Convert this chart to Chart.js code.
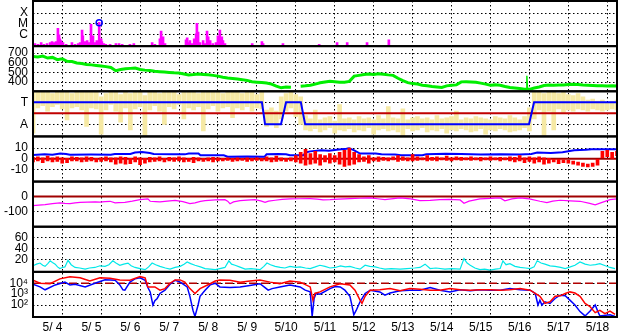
<!DOCTYPE html>
<html><head><meta charset="utf-8">
<script src="https://cdn.jsdelivr.net/npm/chart.js@4/dist/chart.umd.min.js"></script>
<style>html,body{margin:0;padding:0;background:#fff;overflow:hidden}canvas{display:block}</style>
</head><body>
<canvas id="c" width="628" height="334"></canvas>
<script>
// ---------- labels ----------
const dayLabels = ['5/ 4','5/ 5','5/ 6','5/ 7','5/ 8','5/ 9','5/10','5/11','5/12','5/13','5/14','5/15','5/16','5/17','5/18'];
const xrayTickVals = [1e-6, 1e-5, 1e-4];
const xrayTickText = ['C', 'M', 'X'];
const speedTicks = [400, 500, 600, 700];
const sectorTickVals = [-1, 1];
const sectorTickText = ['A', 'T'];
const bzTicks = [-10, 0, 10];
const dstTicks = [-100, 0];
const kpTicks = [20, 40, 60];
const elecTickVals = [100, 1000, 10000];
const elecTickText = ['10²', '10³', '10⁴'];

// ---------- panel 1: X-ray flux (days since 5/4 00:00) ----------
const xrayDay = [0.05,0.13,0.21,0.28,0.36,0.44,0.49,0.54,0.59,0.64,0.67,0.69,0.72,0.77,0.85,1.00,1.08,1.16,1.21,1.26,
  1.28,1.34,1.39,1.44,1.49,1.54,1.59,1.64,1.70,1.75,1.77,1.82,1.87,1.98,2.13,2.21,2.29,2.49,2.59,3.06,
  3.13,3.26,3.29,3.34,3.39,3.93,3.96,4.01,4.03,4.08,4.14,4.19,4.21,4.24,4.29,4.37,4.42,4.47,4.50,4.55,
  4.62,4.70,4.75,4.80,4.85,4.88,4.93,5.63,5.88,5.91,6.42,7.35,7.81,8.07,8.58,9.14];
const xrayFlux = [1.3e-7,1.07e-7,1.6e-7,1.07e-7,1.3e-7,1.6e-7,2.0e-7,1.6e-7,2.0e-7,3.7e-6,8.6e-7,3.7e-7,2.45e-7,1.6e-7,1.07e-7,1.6e-7,1.07e-7,1.3e-7,1.6e-7,2.45e-6,
  7.0e-7,2.0e-7,2.45e-7,1.6e-7,8.7e-6,7.0e-7,1.6e-7,2.45e-7,1.3e-5,3.7e-7,2.0e-7,1.3e-7,1.07e-7,1.07e-7,1.3e-7,1.3e-7,1.07e-7,1.07e-7,1.3e-7,1.6e-7,
  1.07e-7,3.7e-7,2.0e-6,5.7e-7,1.3e-7,3.0e-7,4.6e-7,1.6e-7,2.45e-7,1.3e-7,3.7e-7,1.07e-6,1.07e-5,1.6e-6,1.6e-7,2.45e-7,1.3e-7,2.0e-6,5.7e-7,2.45e-7,
  1.3e-7,1.6e-7,7.0e-7,2.45e-6,5.7e-7,2.45e-7,1.3e-7,1.3e-7,2.0e-7,1.3e-7,1.3e-7,1.07e-7,1.6e-7,1.6e-7,1.6e-7,3.0e-7];
const flarePeakDay = [1.70];
const flarePeakFlux = [1.25e-5];

// ---------- panel 2: solar wind speed, every 3 h ----------
const windStep = 0.125;
const windSpeed = [664,660,668,648,655,632,640,615,612,598,592,582,578,572,566,560,552,518,530,538,
  542,546,530,524,520,512,508,504,500,496,494,485,475,478,484,480,476,470,462,450,
  442,438,432,426,418,405,400,396,392,380,360,342,350,348,null,358,362,369,380,393,
  402,410,405,398,400,408,462,470,478,483,480,486,482,475,470,440,415,395,385,380,
  369,362,355,350,345,362,368,372,403,405,402,398,390,380,369,372,368,355,345,340,
  334,328,326,340,350,365,370,368,370,372,375,378,375,370,368,365,362,362,360,362,361];
const windSpikeDay = [12.67, 12.685, 12.70];
const windSpikeSpeed = [328, 466, 328];

// ---------- panel 3: IMF sector (T/A) ----------
const phiStep = 0.125;
const phiSpread = [[-1.8,2],[0.5,2],[0.7,1.9],[0.2,2],[0.6,1.8],[0.8,2],[0.4,1.9],[-0.6,2],[0.5,1.8],[0.6,2],
  [0.3,1.9],[-1.2,2],[0.5,1.9],[0.4,2],[-1.9,1.5],[0.3,1.8],[0.8,2],[0.2,1.9],[-0.8,1.7],[0.5,2],
  [-1.5,1.8],[0.4,1.9],[0.6,2],[-2,1.6],[0.3,1.9],[0.7,2],[0.2,1.8],[-1,2],[0.6,1.9],[0.4,2],
  [0.8,1.7],[-0.5,2],[0.5,1.9],[0.3,2],[0.6,1.8],[-1.6,1.9],[0.4,2],[0.7,1.9],[0.2,2],[0.5,1.8],
  [0.6,2],[-0.4,1.9],[0.5,2],[0.3,1.8],[0.6,1.9],[0.2,2],[0.5,1.7],[0.4,1.9],
  [-1.2,0.3],[-1,0.5],[-1.3,0.2],[-0.5,1.5],[0.2,1.8],[0.5,1.9],[-0.3,1.7],[-1,1.5],
  [-1.5,-0.2],[-1.6,-0.5],[-1.4,0.3],[-1.7,-0.6],[-1.5,-0.4],[-1.3,-0.3],[-1.8,-0.7],[-1.5,0.8],[-1.6,-0.5],[-1.4,-0.4],
  [-1.7,-0.6],[-1.5,-0.3],[-1.6,-0.5],[-1.3,-0.4],[-1.9,-0.6],[-1.5,-0.2],[-1.4,-0.5],[-1.6,0.6],[-1.5,-0.4],[-1.7,-0.5],
  [-2,0.4],[-1.4,-0.6],[-1.6,-0.4],[-1.5,-0.3],[-1.3,-0.5],[-1.7,-0.4],[-1.5,-0.6],[-1.6,-0.2],[-1.4,-0.5],[-1.8,-0.4],
  [-1.5,-0.3],[-1.6,0.2],[-1.4,-0.6],[-1.5,-0.4],[-1.7,-0.5],[-1.6,-0.3],[-1.4,-0.4],[-1.9,-0.5],[-1.5,-0.6],[-1.6,-0.3],
  [-1.4,-0.4],[-1.5,-0.5],[-1.7,-0.2],[-1.6,-0.4],[-1.5,-0.6],[-1.3,-0.3],[-1.6,0.5],
  [-0.5,2],[0.3,1.9],[-2,1.8],[0.2,2],[-1.5,1.9],[0.4,1.8],[0.1,1.9],[0.3,1.7],[0.2,1.6],[0.4,1.8],
  [0.3,1.5],[0.2,1.2],[0.4,1.3],[0.3,1.1],[0.2,1.2],[0.3,1.0],[0.4,1.1],[0.3,1.2]];
const sectorDay = [0, 5.88, 5.96, 6.37, 6.50, 6.88, 6.99, 12.74, 12.87, 15];
const sectorVal = [1, 1, -1, -1, 1, 1, -1, -1, 1, 1];

// ---------- panel 4: IMF Bt (blue) and Bz spread (red) ----------
const btDay = [0,0.3,0.5,0.7,0.85,0.95,1.5,2.0,2.1,2.5,2.62,2.8,3.0,3.1,3.6,3.9,4.0,4.25,4.3,4.9,
  5.0,5.5,5.95,6.0,6.3,6.5,6.6,6.95,7.0,7.12,7.4,7.6,7.8,8.05,8.12,8.25,8.4,8.8,8.95,9.3,
  9.45,10.0,10.1,10.6,11.0,11.5,12.0,12.5,12.8,12.95,13.3,13.6,13.9,14.2,14.35,15];
const btVal = [3.6,4.2,3.8,5,4.5,3.8,4,3.8,4.5,4.5,6,6.5,5.5,4.5,4.2,4.2,5,5,3.3,3.3,
  2,2.2,2,4.3,4.5,4.3,3.3,3.3,6,7,8,7.5,8.5,9.5,10,8,5,5,4.3,4,
  3.3,3.3,4.3,4.8,4.5,4,4.3,4,4.5,6,5.5,6.2,8,8.5,9,9];
const bzStep = 0.125;
const bzSpread = [[-3,1.5],[-2,2],[-3.5,1],[-2,2.5],[-3,1],[-2.5,2],[-4,1],[-3.5,0.5],[-2,2],
  [-2,1.5],[-3,1],[-2.5,2],[-2,1.5],[-3,0.5],[-2.5,1],[-2,2],[-3,1],
  [-5,1],[-4,2],[-5,1.5],[-4.5,0.5],[-3,2],[-5.5,1],[-4,0.5],[-3,1.5],
  [-2.5,1],[-2,2],[-3,0.5],[-2,1.5],[-2.5,1],[-2,2],[-3,1],[-2.5,0.5],[-3.5,1.5],[-2,1],[-2.5,0.5],[-2,1],[-3,1.5],[-2,1],
  [-2,0.5],[-1.5,1],[-2.5,0.5],[-2,1],[-1.5,0.5],[-2.5,1],[-2,0.5],[-1.5,1],[-2,0.5],
  [-2,2],[-3,1],[-2.5,2.5],[-2,1],[-2.5,0.5],[-2,1],
  [-3,3],[-4,6],[-6,9],[-5,5],
  [-4,7],[-6,4],[-3,3],
  [-4,5],[-3,3],[-5,6],[-7,8],[-6,10],[-5,6],
  [-3,4],[-2.5,2],[-4,3],[-2,1],[-2.5,2],
  [-1.5,1.5],[-2,1],[-1,2],[-2.5,3],[-1.5,2],[-2,1],[-2,4],[-1.5,2],[-1,1],[-2,3],[-1.5,1.5],
  [-2,2],[-1,1],[-1.5,2.5],[-2,1],[-1,2],[-1.5,1.5],[-1,1],[-1.5,2],[-1,1],[-2,1.5],[-1,1],[-1.5,2],[-1,1],[-2,1.5],[-1,1],
  [-2,2],[-3,1.5],[-2,3],[-3.5,1],[-2.5,2],[-4,1],[-3,2],[-5,1],
  [-4,0.5],[-3,-0.5],[-4.5,0],[-3.5,-1],[-4,-1.5],[-5,-2],
  [-6,-3],[-7,-4],[-7.5,-5],[-7,-4],[-6,0],
  [1,7],[2,8],[0,6],[3,7]];

// ---------- panel 5: Dst ----------
const dstDay = [0,0.15,0.31,0.5,0.69,0.82,0.95,1.08,1.21,1.4,1.6,1.72,1.85,1.98,2.11,2.2,2.36,2.55,2.75,2.95,
  3.01,3.15,3.26,3.45,3.65,3.85,4.03,4.16,4.3,4.42,4.68,4.93,5.0,5.06,5.15,5.32,5.5,5.70,5.85,5.96,
  6.05,6.22,6.4,6.60,6.85,7.12,7.3,7.45,7.63,7.85,8.14,8.4,8.66,8.85,9.04,9.2,9.43,9.7,9.94,10.2,
  10.45,10.7,10.97,11.07,11.2,11.48,11.75,12.0,12.12,12.3,12.51,12.75,13.02,13.2,13.35,13.54,13.8,14.05,14.3,14.44,
  14.6,14.82,15];
const dstVal = [-60,-56,-53,-46,-42,-45,-47,-41,-38,-37,-35,-36,-33,-31,-42,-40,-38,-30,-20,-15,
  -31,-33,-35,-30,-25,-33,-47,-42,-32,-27,-22,-20,-30,-47,-35,-27,-23,-20,-28,-38,
  -30,-24,-18,-15,-14,-13,-17,-22,-20,-16,-13,-11,-9,-14,-20,-15,-9,-15,-27,-25,
  -20,-18,-22,-44,-30,-15,-12,-9,-28,-15,-9,-15,-31,-40,-30,-24,-28,-31,-45,-55,
  -40,-20,-15];

// ---------- panel 6: cyan index ----------
const kpDay = [0,0.09,0.18,0.25,0.31,0.38,0.44,0.5,0.57,0.63,0.69,0.76,0.82,0.90,0.98,1.08,1.2,1.34,1.45,1.59,
  1.72,1.85,1.95,2.05,2.13,2.23,2.33,2.44,2.52,2.62,2.75,2.88,2.97,3.06,3.15,3.26,3.4,3.52,3.65,3.78,
  3.88,3.96,4.05,4.16,4.3,4.42,4.55,4.68,4.8,4.93,5.03,5.1,5.19,5.3,5.45,5.6,5.83,5.93,6.01,6.1,
  6.22,6.35,6.47,6.6,6.75,6.86,7.0,7.12,7.25,7.37,7.5,7.63,7.76,7.9,8.02,8.14,8.28,8.40,8.53,8.65,
  8.79,8.9,9.04,9.2,9.43,9.6,9.8,9.94,10.07,10.2,10.35,10.58,10.75,10.97,11.07,11.15,11.23,11.35,11.48,11.6,
  11.74,11.88,12.0,12.07,12.15,12.25,12.38,12.51,12.65,12.77,12.87,12.95,13.05,13.15,13.28,13.41,13.55,13.67,13.8,13.92,
  14.05,14.18,14.31,14.45,14.56,14.7,14.82,14.95];
const kpVal = [9,12,14,10,8,13,18,15,12,7,4,6,7,19,11,6,5,3,5,6,
  9,8,11,18,14,10,12,14,9,6,4,2,7,14,11,8,5,3,6,8,
  12,16,13,10,7,4,3,2,4,6,18,12,10,7,3,4,2,8,14,11,
  8,6,5,8,6,7,5,4,7,10,8,5,6,9,7,8,5,3,10,8,
  7,5,3,4,3,4,5,6,12,4,5,3,4,3,22,14,10,5,2,3,
  1,3,4,18,11,13,8,6,5,4,7,18,14,12,9,8,6,4,7,10,
  16,12,10,11,13,9,6,4];

// ---------- panel 7: electron flux (red, blue) ----------
const eRedDay = [0,0.18,0.44,0.69,0.95,1.21,1.46,1.72,1.98,2.23,2.49,2.75,2.88,2.95,3.13,3.26,3.39,3.52,3.65,3.78,
  3.90,4.03,4.16,4.29,4.55,4.68,4.80,5.06,5.32,5.57,5.83,6.09,6.34,6.60,6.86,7.12,7.19,7.24,7.37,7.63,
  7.89,8.14,8.27,8.40,8.45,8.53,8.66,8.91,9.17,9.43,9.68,9.94,10.20,10.45,10.71,10.97,11.23,11.48,11.74,12.00,
  12.25,12.51,12.77,12.90,13.02,13.15,13.28,13.41,13.54,13.67,13.79,13.92,14.05,14.18,14.31,14.44,14.56,14.69,14.82,14.95];
const eRedVal = [18600,10000,8900,25000,40000,31600,15800,31600,28000,20000,18600,40000,31600,4600,4600,2300,3200,10000,20000,20000,
  12600,3200,1150,3200,8900,15800,20000,18600,12600,15800,20000,12600,8900,15800,12600,4600,280,1150,1600,4600,
  8900,7000,2300,280,140,630,2300,2500,3200,2000,3200,2800,2300,2300,3200,2500,2300,2500,2500,2300,
  2500,3200,2300,1150,630,140,200,630,700,1150,1600,1260,630,140,70,20,32,16,28,14];
const eBlueDay = [0,0.18,0.31,0.57,0.82,0.95,1.08,1.34,1.59,1.85,2.11,2.23,2.31,2.36,2.49,2.62,2.75,2.88,2.95,3.01,
  3.08,3.13,3.19,3.26,3.39,3.52,3.65,3.78,3.96,4.03,4.11,4.16,4.24,4.29,4.42,4.55,4.68,4.80,5.06,5.32,
  5.57,5.83,5.96,6.04,6.14,6.34,6.60,6.86,6.99,7.12,7.17,7.22,7.27,7.37,7.63,7.76,7.89,8.01,8.14,8.19,
  8.24,8.30,8.40,8.53,8.66,8.91,9.04,9.17,9.43,9.68,9.94,10.20,10.45,10.71,10.97,11.23,11.48,11.74,12.00,12.25,
  12.51,12.77,12.90,12.97,13.02,13.07,13.15,13.28,13.41,13.54,13.67,13.79,13.92,14.05,14.18,14.31,14.44,14.51,14.56,14.82,14.95];
const eBlueVal = [8000,4600,2500,7000,12600,7000,8000,4600,10000,21000,18600,7000,2500,2300,12600,25000,31600,18600,4000,1600,
  100,250,400,1150,2300,8000,18600,12600,4600,630,32,9,100,630,2300,7000,10000,4600,4000,4600,
  6300,8900,4000,2300,3200,4600,7000,4600,2300,1600,9,400,1150,1000,3200,5000,4600,2300,630,100,
  12.6,32,200,1150,2300,1600,800,1260,2000,2300,2300,4000,2300,1600,2500,2000,2500,2300,2300,3200,
  2500,2300,1150,100,280,100,200,140,400,800,700,280,100,25,10,28,100,25,10,12.6,9];
const eThreshold = 10000;
const zeroLine = 0;

// ---------- build chart ----------
const pts = (xs, ys) => xs.map((x, i) => ({x: x, y: ys[i]}));
const stepPts = (step, ys) => ys.map((y, i) => ({x: i * step, y: y}));
const hline = v => [{x: 0, y: v}, {x: 15, y: v}];

Chart.defaults.font.family = "'Liberation Sans', Arial, sans-serif";
Chart.defaults.font.size = 12;
Chart.defaults.color = '#000';

const zeroPad = s => { s.paddingTop = 0; s.paddingBottom = 0; s.paddingLeft = 0; s.paddingRight = 0; };
const DOT = [1.5, 2.5];
function yAxis(extra, tickVals, tickText) {
  return Object.assign({
    position: 'left', stack: 'panels', stackWeight: 1, offset: false,
    grid: {color: '#000', lineWidth: 1, drawTicks: false},
    border: {display: false, dash: DOT},
    ticks: {padding: 5, color: '#000', autoSkip: false,
      callback: (v, i) => tickText ? tickText[i] : String(v)},
    afterBuildTicks: s => { s.ticks = tickVals.map(v => ({value: v})); },
    afterFit: s => { s.width = 33; zeroPad(s); }
  }, extra);
}

const panelIds = ['yX', 'ySpeed', 'yTA', 'yBz', 'yDst', 'yKp', 'yE'];
const frames = {
  id: 'frames',
  afterDatasetsDraw(chart) {
    const {ctx, chartArea} = chart;
    ctx.save();
    ctx.strokeStyle = '#000';
    ctx.lineWidth = 2;
    panelIds.forEach(id => {
      const s = chart.scales[id];
      ctx.strokeRect(chartArea.left, s.top, chartArea.right - chartArea.left, s.bottom - s.top);
    });
    ctx.restore();
  }
};

const line = (data, yAxisID, color, width, order, extra) => Object.assign({
  type: 'line', data: data, yAxisID: yAxisID, xAxisID: 'x', borderColor: color,
  backgroundColor: color, borderWidth: width, pointRadius: 0, tension: 0, order: order, spanGaps: false
}, extra || {});

new Chart(document.getElementById('c'), {
  type: 'line',
  data: {
    datasets: [
      // X-ray
      {type: 'bar', data: pts(xrayDay, xrayFlux), yAxisID: 'yX', xAxisID: 'x', backgroundColor: '#ff00ff',
        barThickness: 2, grouped: false, order: 5},
      {type: 'line', showLine: false, data: pts(flarePeakDay, flarePeakFlux), yAxisID: 'yX', xAxisID: 'x',
        pointRadius: 3, pointBorderWidth: 1.5, pointBorderColor: '#0000ff', pointBackgroundColor: 'rgba(0,0,0,0)', order: 1},
      // wind speed
      line(stepPts(windStep, windSpeed), 'ySpeed', '#00ee00', 3, 5),
      line(pts(windSpikeDay, windSpikeSpeed), 'ySpeed', '#00ee00', 1.5, 5),
      // sector
      {type: 'bar', data: phiSpread.map((r, i) => ({x: i * phiStep, y: r})), yAxisID: 'yTA', xAxisID: 'x',
        backgroundColor: '#f6e9a4', barThickness: 4, grouped: false, order: 10},
      line(hline(zeroLine), 'yTA', '#c00000', 2, 6),
      line(pts(sectorDay, sectorVal), 'yTA', '#0000ff', 2, 4),
      // Bz / Bt
      line(hline(zeroLine), 'yBz', '#a00000', 2, 9),
      line(pts(btDay, btVal), 'yBz', '#0000ff', 2, 8),
      {type: 'bar', data: bzSpread.map((r, i) => ({x: i * bzStep, y: r})), yAxisID: 'yBz', xAxisID: 'x',
        backgroundColor: '#ff0000', barThickness: 3, grouped: false, order: 7},
      // Dst
      line(hline(zeroLine), 'yDst', '#a00000', 2, 9),
      line(pts(dstDay, dstVal), 'yDst', '#ff00ff', 1.2, 8),
      // cyan
      line(pts(kpDay, kpVal), 'yKp', '#00e8e8', 1.2, 8),
      // electrons
      line(hline(eThreshold), 'yE', '#b00000', 1.5, 9, {borderDash: [8, 4]}),
      line(pts(eBlueDay, eBlueVal), 'yE', '#0000ff', 1.5, 8),
      line(pts(eRedDay, eRedVal), 'yE', '#ff0000', 1.5, 7)
    ]
  },
  options: {
    responsive: false, animation: false, events: [],
    layout: {autoPadding: false, padding: {top: 1, right: 11, left: 0, bottom: 0}},
    plugins: {legend: {display: false}, tooltip: {enabled: false}, title: {display: false}},
    scales: {
      x: {
        type: 'linear', min: 0, max: 15, offset: false,
        afterBuildTicks: s => { s.ticks = dayLabels.flatMap((_, d) => [{value: d}, {value: d + 0.5}]).concat([{value: 15}]); },
        ticks: {autoSkip: false, maxRotation: 0, padding: 3, color: '#000',
          callback: v => (v % 1 ? dayLabels[Math.floor(v)] : '')},
        grid: {color: c => (c.tick && c.tick.value % 1 === 0) ? '#000' : 'rgba(0,0,0,0)', drawTicks: false, lineWidth: 1},
        border: {display: false, dash: DOT},
        afterFit: s => { s.height = 17; zeroPad(s); }
      },
      yE: yAxis({type: 'logarithmic', min: 8, max: 1.1e5}, elecTickVals, elecTickText),
      yKp: yAxis({type: 'linear', min: -2, max: 80}, kpTicks),
      yDst: yAxis({type: 'linear', min: -200, max: 100}, dstTicks),
      yBz: yAxis({type: 'linear', min: -21.3, max: 21}, bzTicks),
      yTA: yAxis({type: 'linear', min: -2.1, max: 2}, sectorTickVals, sectorTickText),
      ySpeed: yAxis({type: 'linear', min: 306, max: 771}, speedTicks),
      yX: yAxis({type: 'logarithmic', min: 7.4e-8, max: 1.4e-3}, xrayTickVals, xrayTickText)
    }
  },
  plugins: [frames]
});
</script>
</body></html>
